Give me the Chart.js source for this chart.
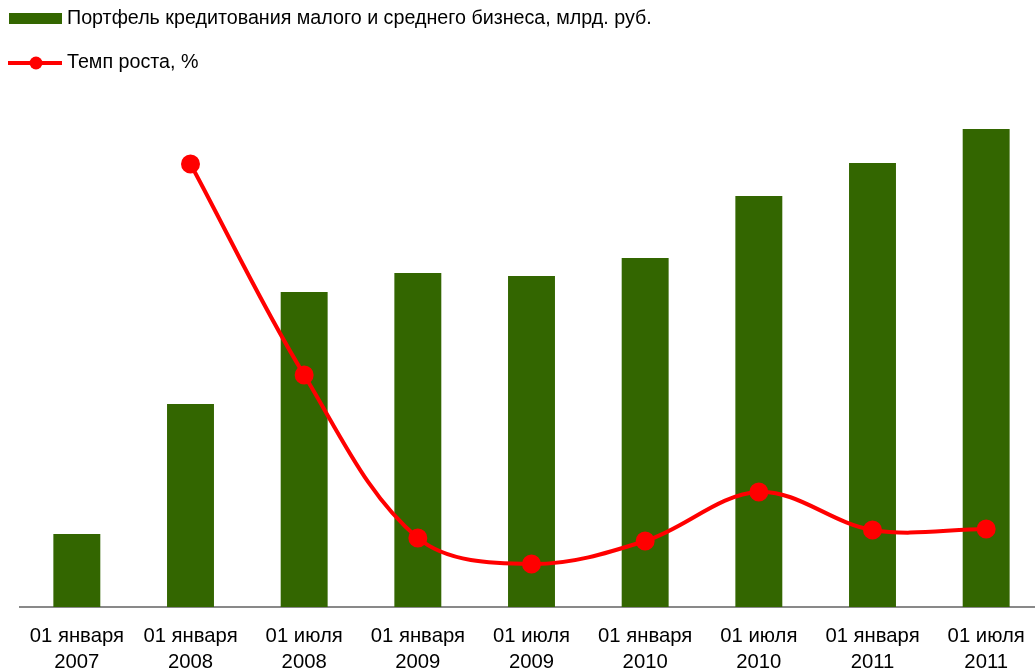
<!DOCTYPE html>
<html>
<head>
<meta charset="utf-8">
<script src="https://cdn.jsdelivr.net/npm/chart.js@4"></script>
<style>
  html, body { margin: 0; padding: 0; background: #fff; overflow: hidden; }
  #wrap { width: 1035px; height: 668px; overflow: hidden; position: relative; }
  #box { width: 1045px; height: 668px; position: absolute; left: 0; top: 0; }
</style>
</head>
<body>
<div id="wrap"><div id="box"><canvas id="chart"></canvas></div></div>
<script>
var labels = [
    ['01 января', '2007'],
    ['01 января', '2008'],
    ['01 июля', '2008'],
    ['01 января', '2009'],
    ['01 июля', '2009'],
    ['01 января', '2010'],
    ['01 июля', '2010'],
    ['01 января', '2011'],
    ['01 июля', '2011']
];
var portfolio = [146, 406, 630, 668, 662, 698, 822, 888, 956];
var growth = [null, 88.6, 46.4, 13.8, 8.6, 13.2, 23.0, 15.4, 15.6];

var barName = 'Портфель кредитования малого и среднего бизнеса, млрд. руб.';
var lineName = 'Темп роста, %';

var fontFamily = '"Liberation Sans", Arial, sans-serif';

// legend drawn as two stacked rows at the top left
var stackedLegend = {
    id: 'stackedLegend',
    afterDraw: function (chart) {
        var ctx = chart.ctx;
        ctx.save();
        ctx.font = '19.7px ' + fontFamily;
        ctx.textBaseline = 'middle';

        ctx.fillStyle = '#336600';
        ctx.fillRect(9, 13, 53, 11);
        ctx.fillStyle = '#000';
        ctx.fillText(barName, 67, 19);

        ctx.strokeStyle = '#ff0000';
        ctx.lineWidth = 4;
        ctx.beginPath();
        ctx.moveTo(8, 63);
        ctx.lineTo(62, 63);
        ctx.stroke();
        ctx.fillStyle = '#ff0000';
        ctx.beginPath();
        ctx.arc(36, 63, 6.5, 0, Math.PI * 2);
        ctx.fill();
        ctx.fillStyle = '#000';
        ctx.fillText(lineName, 67, 63);
        ctx.restore();
    }
};

var ctx = document.getElementById('chart');
new Chart(ctx, {
    type: 'bar',
    data: {
        labels: labels,
        datasets: [{
                type: 'line',
                label: lineName,
                data: growth,
                yAxisID: 'y1',
                borderColor: '#ff0000',
                backgroundColor: '#ff0000',
                borderWidth: 4,
                pointRadius: 7.5,
                pointHoverRadius: 7.5,
                tension: 0.35,
                clip: false,
                order: 0
            }, {
                label: barName,
                data: portfolio,
                yAxisID: 'y',
                backgroundColor: '#336600',
                barPercentage: 1,
                categoryPercentage: 0.413,
                order: 1
            }]
    },
    options: {
        responsive: true,
        maintainAspectRatio: false,
        animation: false,
        layout: {
            autoPadding: false,
            padding: {top: 100, left: 20, right: 2, bottom: 0}
        },
        plugins: {
            legend: {display: false},
            tooltip: {enabled: false}
        },
        scales: {
            x: {
                grid: {display: false, drawTicks: false},
                border: {display: true, color: '#898989', width: 2},
                ticks: {
                    color: '#000',
                    font: {family: fontFamily, size: 20.3, lineHeight: 1.28},
                    padding: 16,
                    maxRotation: 0,
                    autoSkip: false
                },
                afterFit: function (scale) {
                    scale.height = 61;
                    scale.paddingLeft = 0;
                    scale.paddingRight = 0;
                }
            },
            y: {display: false, min: 0, max: 1014},
            y1: {display: false, min: 0, max: 101.4}
        }
    },
    plugins: [stackedLegend]
});
</script>
</body>
</html>
